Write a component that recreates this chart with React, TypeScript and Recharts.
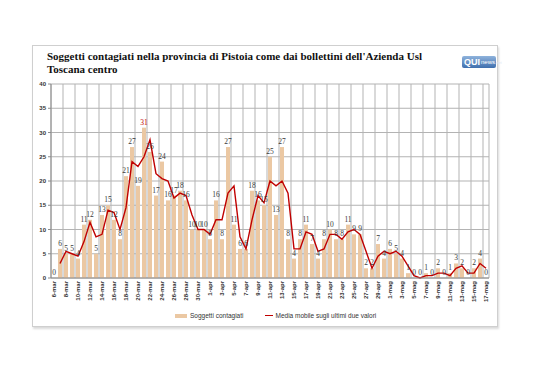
import { Bar, CartesianGrid, ComposedChart, LabelList, Line, XAxis, YAxis } from "recharts";

const days = [
  "6-mar", "7-mar", "8-mar", "9-mar", "10-mar", "11-mar", "12-mar", "13-mar", "14-mar", "15-mar",
  "16-mar", "17-mar", "18-mar", "19-mar", "20-mar", "21-mar", "22-mar", "23-mar", "24-mar", "25-mar",
  "26-mar", "27-mar", "28-mar", "29-mar", "30-mar", "31-mar", "1-apr", "2-apr", "3-apr", "4-apr",
  "5-apr", "6-apr", "7-apr", "8-apr", "9-apr", "10-apr", "11-apr", "12-apr", "13-apr", "14-apr",
  "15-apr", "16-apr", "17-apr", "18-apr", "19-apr", "20-apr", "21-apr", "22-apr", "23-apr", "24-apr",
  "25-apr", "26-apr", "27-apr", "28-apr", "29-apr", "30-apr", "1-mag", "2-mag", "3-mag", "4-mag",
  "5-mag", "6-mag", "7-mag", "8-mag", "9-mag", "10-mag", "11-mag", "12-mag", "13-mag", "14-mag",
  "15-mag", "16-mag", "17-mag",
];

// nuovi contagiati giornalieri
const cases = [
  0, 6, 5, 5, 4, 11, 12, 5, 13, 15,
  12, 8, 21, 27, 19, 31, 26, 17, 24, 16,
  17, 18, 16, 10, 10, 10, 8, 16, 8, 27,
  11, 6, 6, 18, 16, 15, 25, 13, 27, 8,
  4, 8, 11, 7, 4, 8, 10, 8, 8, 11,
  9, 9, 2, 2, 7, 4, 6, 5, 4, 1,
  0, 0, 1, 0, 2, 0, 1, 3, 2, 0,
  2, 4, 0,
];

// media mobile a due valori
const movingAvg = [
  null, 3, 5.5, 5, 4.5, 7.5, 11.5, 8.5, 9, 14,
  13.5, 10, 14.5, 24, 23, 25, 28.5, 21.5, 20.5, 20,
  16.5, 17.5, 17, 13, 10, 10, 9, 12, 12, 17.5,
  19, 8.5, 6, 12, 17, 15.5, 20, 19, 20, 17.5,
  6, 6, 9.5, 9, 5.5, 6, 9, 9, 8, 9.5,
  10, 9, 5.5, 2, 4.5, 5.5, 5, 5.5, 4.5, 2.5,
  0.5, 0, 0.5, 0.5, 1, 1, 0.5, 2, 2.5, 1,
  1, 3, 2,
];

const yTicks = [0, 5, 10, 15, 20, 25, 30, 35, 40];

const data = days.map((day, i) => ({ day, cases: cases[i], avg: movingAvg[i] }));
const maxCases = Math.max(...cases);

const serif = "'Liberation Serif', 'DejaVu Serif', serif";
const sans = "'Liberation Sans', Arial, sans-serif";

// etichette sopra le colonne (anche per gli zeri)
function CaseLabel(props: any) {
  const { x, y, value } = props;
  return (
    <text
      x={Number(x)}
      y={Number(y) - 3}
      textAnchor="middle"
      fontSize={7.5}
      fontFamily={serif}
      fill={value === maxCases ? "#c00000" : "#3a3a3a"}
    >
      {value}
    </text>
  );
}

function DayTick({ x, y, payload }: any) {
  return (
    <text
      x={x}
      y={y}
      transform={`rotate(-90 ${x} ${y})`}
      textAnchor="end"
      dominantBaseline="central"
      fontSize={6}
      fontWeight={700}
      fontFamily={sans}
      fill="#333"
    >
      {payload.value}
    </text>
  );
}

// una linea verticale ogni due giorni, sul bordo delle categorie
const gridX = ({ offset }: any) => {
  const step = offset.width / days.length;
  const xs: number[] = [];
  for (let i = 0; i <= days.length; i += 2) xs.push(offset.left + i * step);
  xs.push(offset.left + offset.width);
  return xs;
};

export default function App() {
  return (
    <div style={{ position: "absolute", left: 0, top: 0, width: 538, height: 380, background: "#fff" }}>
      <div
        style={{
          position: "absolute",
          left: 32,
          top: 45,
          width: 464,
          height: 280,
          border: "1px solid #cfcfcf",
          boxShadow: "1px 2px 2px rgba(0,0,0,0.15)",
        }}
      />
      <div
        style={{
          position: "absolute",
          left: 47,
          top: 50,
          width: 400,
          fontFamily: serif,
          fontWeight: 700,
          fontSize: 11,
          lineHeight: "13px",
          color: "#111",
        }}
      >
        Soggetti contagiati nella provincia di Pistoia come dai bollettini dell'Azienda Usl Toscana centro
      </div>
      <div
        style={{
          position: "absolute",
          left: 462,
          top: 56,
          width: 34,
          height: 12,
          borderRadius: 2,
          background: "linear-gradient(#8fb3dc, #3f6fae)",
          fontFamily: sans,
          color: "#fff",
          display: "flex",
          alignItems: "center",
          paddingLeft: 2,
          boxSizing: "border-box",
        }}
      >
        <span style={{ fontWeight: 700, fontSize: 9 }}>QUI</span>
        <span style={{ fontSize: 6, marginLeft: 1 }}>news</span>
        <span style={{ fontSize: 4, color: "#dde8f5" }}>.net</span>
      </div>

      <div style={{ position: "absolute", left: 0, top: 0 }}>
        <ComposedChart
          width={538}
          height={380}
          data={data}
          margin={{ top: 84, right: 49, bottom: 72, left: 35 }}
          barSize={4}
        >
          <CartesianGrid
            stroke="#b3b3b3"
            strokeWidth={1}
            verticalCoordinatesGenerator={gridX}
          />
          <XAxis
            dataKey="day"
            interval={1}
            height={30}
            tick={<DayTick />}
            tickLine={false}
            tickSize={0}
            tickMargin={3}
            axisLine={{ stroke: "#8c8c8c" }}
          />
          <YAxis
            domain={[0, 40]}
            ticks={yTicks}
            width={16}
            interval={0}
            tick={{ fontSize: 6, fontWeight: 700, fontFamily: sans, fill: "#333" }}
            tickSize={3}
            tickMargin={2}
            tickLine={{ stroke: "#8c8c8c" }}
            axisLine={{ stroke: "#8c8c8c" }}
          />
          <Bar dataKey="cases" name="Soggetti contagiati" fill="#ebc8a3" isAnimationActive={false} />
          <Line
            dataKey="avg"
            name="Media mobile sugli ultimi due valori"
            type="linear"
            stroke="#c00000"
            strokeWidth={1.4}
            dot={false}
            connectNulls={false}
            isAnimationActive={false}
          />
          {/* serie invisibile che porta solo le etichette dei valori */}
          <Line
            dataKey="cases"
            stroke="none"
            dot={false}
            activeDot={false}
            legendType="none"
            isAnimationActive={false}
          >
            <LabelList dataKey="cases" content={<CaseLabel />} />
          </Line>
        </ComposedChart>
      </div>

      <div
        style={{
          position: "absolute",
          left: 175,
          top: 312,
          display: "flex",
          alignItems: "center",
          fontFamily: sans,
          fontSize: 6.5,
          color: "#333",
          whiteSpace: "nowrap",
        }}
      >
        <span style={{ display: "inline-block", width: 12, height: 4, background: "#ebc8a3", marginRight: 3 }} />
        <span>Soggetti contagiati</span>
        <span style={{ display: "inline-block", width: 8, height: 1.5, background: "#c00000", marginLeft: 22, marginRight: 2 }} />
        <span>Media mobile sugli ultimi due valori</span>
      </div>
    </div>
  );
}
